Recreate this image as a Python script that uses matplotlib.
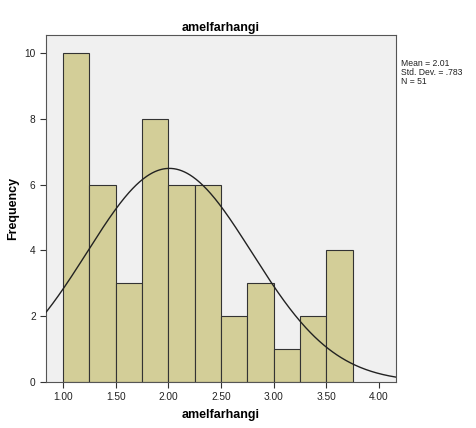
import numpy as np
import matplotlib.pyplot as plt

# Histogram data
bin_edges = [1.00, 1.25, 1.50, 1.75, 2.00, 2.25, 2.50, 2.75, 3.00, 3.25, 3.50, 3.75]
counts = [10, 6, 3, 8, 6, 6, 2, 3, 1, 2, 4]
mean, std, n = 2.01, 0.783, 51
x_ticks = [1.00, 1.50, 2.00, 2.50, 3.00, 3.50, 4.00]
y_ticks = [0, 2, 4, 6, 8, 10]

plt.rcParams['font.family'] = ['Liberation Sans', 'DejaVu Sans']

fig = plt.figure(figsize=(4.77, 4.28), dpi=100)
ax = fig.add_axes([0.0964, 0.1075, 0.7336, 0.8105])
ax.set_facecolor('#f0f0f0')

widths = np.diff(bin_edges)
ax.bar(bin_edges[:-1], counts, width=widths, align='edge',
       color='#d3ce98', edgecolor='#333333', linewidth=0.8, zorder=2)

# Normal curve scaled to counts
xs = np.linspace(0.8, 4.2, 400)
scale = n * 0.25
ys = scale / (std * np.sqrt(2 * np.pi)) * np.exp(-0.5 * ((xs - mean) / std) ** 2)
ax.plot(xs, ys, color='#222222', linewidth=1.0, zorder=3)

ax.set_xlim(0.838, 4.162)
ax.set_ylim(0, 10.55)
ax.set_xticks(x_ticks)
ax.set_xticklabels(['%.2f' % v for v in x_ticks])
ax.set_yticks(y_ticks)
ax.tick_params(labelsize=7.3, length=4, width=0.8, color='#333333', labelcolor='#222222')

for s in ax.spines.values():
    s.set_color('#555555')
    s.set_linewidth(0.8)

ax.set_title('amelfarhangi', fontsize=9, fontweight='bold', pad=3)
ax.set_xlabel('amelfarhangi', fontsize=9, fontweight='bold', labelpad=5)
ax.set_ylabel('Frequency', fontsize=9, fontweight='bold', labelpad=4)

fig.text(0.841, 0.862, 'Mean = 2.01\nStd. Dev. = .783\nN = 51',
         fontsize=6.2, va='top', ha='left', linespacing=1.0, color='#222222')

fig.savefig('out.png', dpi=100)
